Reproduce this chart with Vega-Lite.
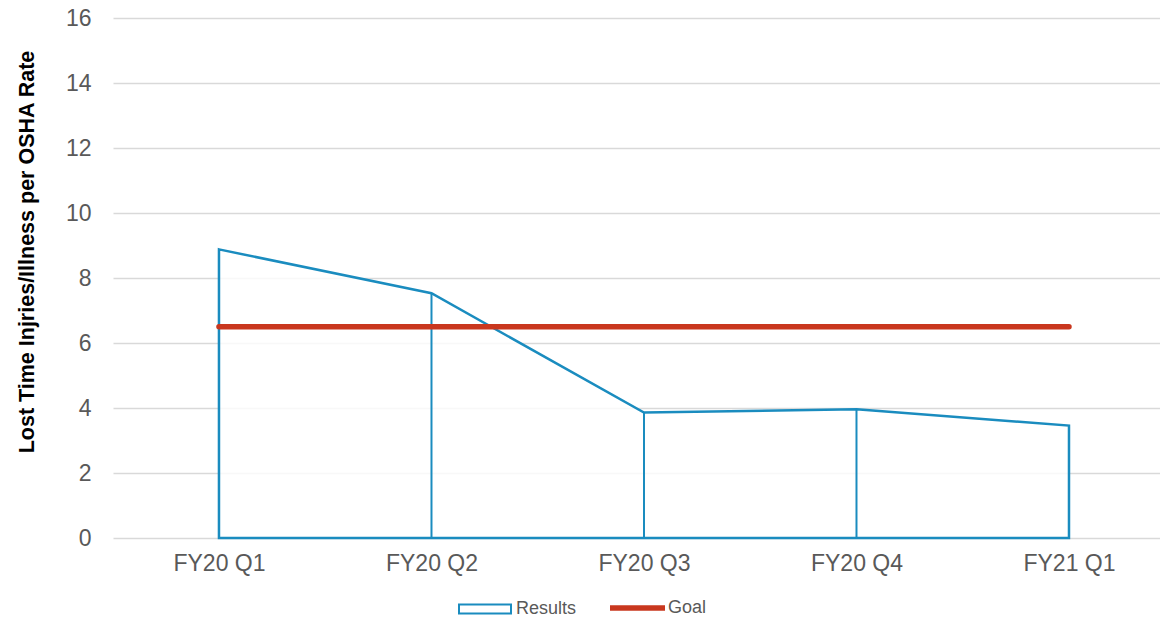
{
  "$schema": "https://vega.github.io/schema/vega-lite/v6.json",
  "width": 1047,
  "height": 520,
  "autosize": {"type": "none"},
  "padding": {"left": 113, "top": 18, "right": 0, "bottom": 80},
  "background": "white",
  "config": {
    "view": {"stroke": null},
    "font": "Liberation Sans",
    "axis": {"labelFont": "Liberation Sans", "labelColor": "#595959"},
    "legend": {
      "title": null,
      "orient": "none",
      "padding": 0,
      "labelFont": "Liberation Sans",
      "labelFontSize": 18,
      "labelColor": "#595959",
      "labelOffset": 4
    }
  },
  "data": {
    "values": [
      {"quarter": "FY20 Q1", "results": 8.88, "goal": 6.5},
      {"quarter": "FY20 Q2", "results": 7.53, "goal": 6.5},
      {"quarter": "FY20 Q3", "results": 3.86, "goal": 6.5},
      {"quarter": "FY20 Q4", "results": 3.96, "goal": 6.5},
      {"quarter": "FY21 Q1", "results": 3.46, "goal": 6.5}
    ]
  },
  "encoding": {
    "x": {
      "field": "quarter",
      "type": "ordinal",
      "sort": null,
      "scale": {"type": "point", "padding": 0.4635, "align": 0.538},
      "axis": {
        "title": null,
        "domain": false,
        "ticks": false,
        "grid": false,
        "labelAngle": 0,
        "labelFontSize": 23,
        "labelPadding": 14
      }
    }
  },
  "layer": [
    {
      "mark": {"type": "area", "fill": "white", "fillOpacity": 0.8, "strokeWidth": 2.5, "strokeJoin": "miter"},
      "encoding": {
        "y": {
          "field": "results",
          "type": "quantitative",
          "scale": {"domain": [0, 16]},
          "axis": {
            "values": [0, 2, 4, 6, 8, 10, 12, 14, 16],
            "grid": true,
            "gridColor": "#d9d9d9",
            "gridWidth": 1.3,
            "domain": false,
            "ticks": false,
            "labelFontSize": 23,
            "labelPadding": 22,
            "title": "Lost Time Injries/Illness per OSHA Rate",
            "titleFont": "Liberation Sans",
            "titleFontSize": 21.5,
            "titleFontWeight": "bold",
            "titleColor": "#000000",
            "titleAngle": 270,
            "titleAlign": "center",
            "titleBaseline": "alphabetic",
            "titleX": -80,
            "titleY": 233.5
          }
        },
        "stroke": {
          "datum": "Results",
          "type": "nominal",
          "scale": {"domain": ["Results"], "range": ["#1A8CBF"]},
          "legend": {
            "legendX": 345,
            "legendY": 564,
            "symbolSize": 2704,
            "symbolType": "M-1,-0.17H1V0.17H-1Z",
            "symbolStrokeWidth": 2,
            "symbolFillColor": "white"
          }
        }
      }
    },
    {
      "mark": {"type": "rule", "color": "#1A8CBF", "strokeWidth": 2},
      "encoding": {
        "y": {"field": "results", "type": "quantitative"},
        "y2": {"datum": 0}
      }
    },
    {
      "mark": {"type": "line", "strokeWidth": 5.5, "strokeCap": "round"},
      "encoding": {
        "y": {"field": "goal", "type": "quantitative"},
        "stroke": {
          "datum": "Goal",
          "type": "nominal",
          "scale": {"domain": ["Goal"], "range": ["#C9371E"]},
          "legend": {
            "legendX": 494,
            "legendY": 559.5,
            "labelOffset": 0,
            "symbolSize": 3025,
            "symbolType": "stroke",
            "symbolStrokeWidth": 5.5
          }
        }
      }
    }
  ],
  "resolve": {"scale": {"stroke": "independent"}, "legend": {"stroke": "independent"}}
}
